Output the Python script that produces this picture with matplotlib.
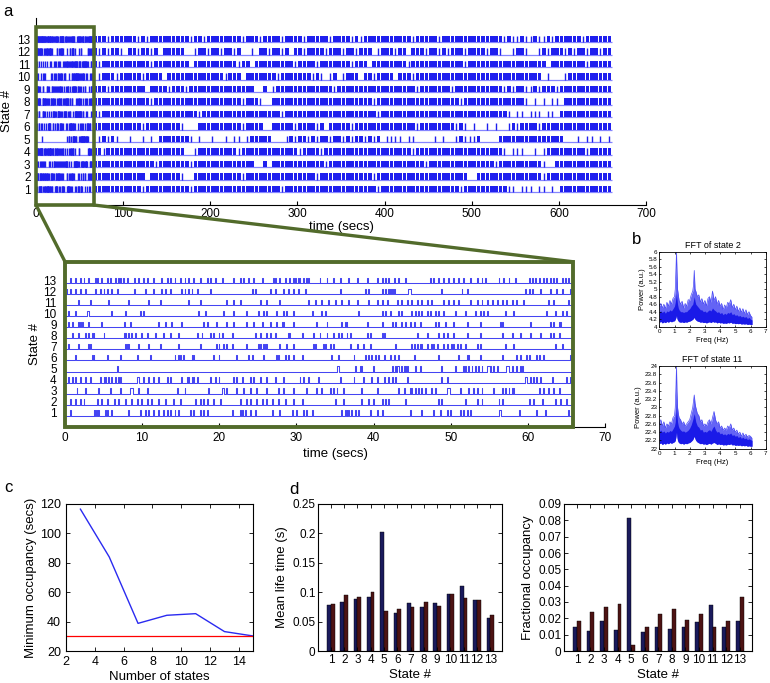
import numpy as np
import matplotlib
matplotlib.use('Agg')
import matplotlib.pyplot as plt
from matplotlib.patches import Rectangle, ConnectionPatch

plt.rcParams['font.family'] = ['Liberation Sans', 'DejaVu Sans']

# ---------------- data ----------------
states = list(range(1, 14))
rec_end = 661.0      # end of recording (s)
zoom_end = 65.8      # end of zoomed window (s)
pulse_dur = 0.12
wide_dur = 0.35

# event onset times (s) in the zoomed window, per state
zoom_events = {
    13: [0.65, 1.3, 1.9, 2.4, 3.0, 3.9, 4.1, 4.7, 5.4, 5.8, 6.5, 6.9, 7.1, 7.5, 8.0, 8.9, 9.5, 10.1, 10.6, 11.4,
         12.5, 13.2, 13.6, 14.2, 14.9, 15.5, 16.0, 16.6, 17.5, 18.4, 18.8, 19.4, 20.3, 21.8, 22.7, 23.1, 23.7, 24.4,
         25.5, 27.0, 27.2, 27.8, 28.5, 29.1, 29.6, 29.8, 30.2, 30.4, 30.9, 31.3, 31.5, 33.0, 33.9, 34.8, 35.6, 36.7,
         37.8, 39.1, 40.4, 41.1, 41.5, 41.9, 42.6, 43.2, 44.1, 47.3, 47.7, 48.4, 49.0, 49.7, 50.3, 51.0, 51.6, 52.5,
         53.4, 54.0, 54.4, 56.2, 56.8, 57.5, 58.3, 60.1, 60.5, 60.9, 61.4, 62.0, 62.4, 62.9, 63.3, 63.7, 64.4, 64.8, 65.2],
    12: [0.2, 0.65, 1.3, 1.9, 2.6, 3.9, 4.5, 5.0, 5.4, 6.0, 6.7, 8.9, 10.4, 11.4, 12.5, 13.0, 13.6, 15.1, 15.5, 16.0,
         16.4, 17.1, 18.8, 24.2, 24.6, 26.6, 27.2, 28.3, 28.9, 29.6, 30.2, 31.1, 35.6, 38.9, 39.3, 41.06, 41.5, 41.9,
         42.1, 42.35, 42.6, 44.5, 48.8, 51.4, 52.1, 59.6, 60.1, 60.5, 61.6, 62.9, 63.7, 64.4, 65.5],
    11: [1.7, 3.2, 5.6, 8.2, 10.8, 12.3, 16.0, 17.5, 20.9, 21.8, 22.7, 25.3, 26.1, 27.8, 31.5, 32.4, 33.2, 34.1, 35.0,
         35.8, 36.7, 37.8, 39.3, 40.4, 41.06, 41.7, 43.0, 43.6, 44.3, 44.9, 45.6, 46.2, 46.9, 47.5, 49.0, 49.7, 50.3,
         51.0, 52.5, 53.4, 54.0, 54.7, 55.3, 56.0, 56.6, 57.2, 57.9, 58.5, 59.4, 62.6, 63.3, 65.2],
    10: [0.4, 1.3, 2.8, 6.0, 7.8, 9.7, 10.1, 17.3, 18.1, 20.5, 21.8, 23.5, 25.0, 25.7, 26.1, 27.4, 28.3, 28.7, 29.6,
         32.0, 33.2, 33.7, 38.0, 41.06, 41.5, 42.1, 43.2, 43.6, 44.9, 45.4, 45.8, 46.2, 46.9, 47.3, 48.0, 48.4, 49.0,
         50.6, 51.8, 53.1, 53.8, 54.2, 54.7, 57.0, 58.1, 62.4, 63.5, 64.4, 65.0],
    9: [0.4, 0.9, 1.7, 1.9, 2.2, 3.0, 4.7, 7.6, 8.4, 12.1, 13.0, 13.8, 15.1, 17.9, 18.4, 19.6, 20.9, 21.8, 23.5, 24.4,
        25.5, 26.6, 27.4, 28.1, 28.3, 29.6, 32.6, 33.9, 35.8, 36.3, 36.5, 39.1, 41.06, 42.35, 42.8, 43.6, 44.1, 44.7,
        45.2, 46.0, 48.0, 48.4, 49.3, 50.3, 52.1, 53.8, 56.4, 56.6, 60.3, 62.9, 63.3, 64.0, 64.2],
    8: [0.9, 1.7, 2.6, 3.0, 3.5, 3.7, 5.0, 7.6, 7.8, 8.2, 8.6, 9.1, 9.9, 10.6, 11.7, 12.7, 13.6, 14.7, 17.1, 17.7,
        18.8, 19.2, 19.9, 20.3, 21.6, 24.6, 25.3, 26.1, 26.6, 27.2, 28.9, 29.1, 30.7, 32.2, 33.0, 33.9, 34.8, 35.4,
        35.8, 36.5, 36.9, 39.1, 39.5, 41.06, 41.3, 45.6, 46.9, 48.4, 49.0, 49.5, 50.3, 52.1, 53.8, 56.6, 57.9, 59.0,
        60.3, 61.6, 62.9, 63.3, 64.0],
    7: [0.4, 1.7, 3.0, 3.2, 7.8, 8.0, 8.2, 9.5, 10.8, 12.3, 14.7, 17.5, 19.6, 19.9, 20.5, 20.9, 21.6, 23.5, 25.0,
        25.3, 25.7, 25.9, 26.1, 27.8, 28.7, 29.6, 32.2, 32.4, 33.5, 33.7, 34.3, 34.8, 36.9, 37.8, 38.6, 39.5, 42.8,
        44.9, 45.2, 45.6, 46.0, 46.2, 46.9, 47.5, 47.7, 48.2, 49.0, 49.5, 50.1, 50.3, 50.8, 51.2, 51.8, 53.4, 53.8,
        57.0, 58.1, 63.5, 64.4],
    6: [1.3, 3.5, 3.7, 5.4, 7.1, 9.3, 11.0, 14.2, 14.7, 14.9, 15.3, 16.4, 16.6, 19.2, 19.9, 22.2, 23.7, 24.2, 25.7,
        27.4, 27.6, 28.5, 28.9, 29.6, 30.7, 34.5, 35.4, 37.4, 38.9, 39.3, 39.7, 40.2, 40.6, 41.3, 42.1, 42.6, 43.2,
        45.2, 48.4, 51.0, 52.1, 52.3, 53.8, 56.6, 58.5, 59.0, 59.8, 60.1, 61.1, 61.4, 62.0, 65.5],
    5: [6.7, 35.2, 37.6, 38.2, 38.4, 39.9, 42.35, 42.8, 43.0, 43.6, 43.9, 44.1, 44.3, 45.4, 46.0, 48.8, 50.6, 51.6,
        51.8, 52.3, 52.7, 53.1, 53.6, 54.0, 54.7, 55.1, 55.5, 56.0, 57.2, 57.9, 58.5, 59.0, 59.2],
    4: [0.4, 0.9, 1.3, 1.9, 2.6, 3.2, 4.5, 5.0, 5.2, 5.6, 6.0, 6.5, 6.9, 7.1, 9.3, 10.1, 10.8, 11.4, 12.1, 13.2,
        13.6, 15.1, 15.8, 16.0, 16.4, 16.6, 17.1, 18.8, 19.4, 19.9, 21.8, 22.2, 22.9, 24.0, 24.4, 25.3, 26.1, 27.2,
        28.3, 30.4, 30.9, 31.5, 32.8, 35.6, 37.4, 38.6, 39.7, 40.4, 41.3, 41.9, 42.35, 42.8, 44.3, 48.8, 49.5, 59.6,
        60.3, 60.7, 61.1, 61.6, 63.1, 65.0, 65.5],
    3: [1.5, 2.6, 4.3, 5.8, 7.1, 8.4, 9.5, 10.6, 14.5, 15.5, 18.6, 20.3, 20.9, 22.2, 23.1, 24.0, 24.8, 26.1, 27.6,
        28.3, 29.6, 31.3, 32.6, 33.2, 34.3, 34.8, 35.2, 36.1, 38.4, 40.4, 43.2, 43.9, 44.7, 44.9, 45.4, 45.8, 46.2,
        46.7, 47.5, 48.0, 49.5, 51.2, 52.3, 52.9, 53.4, 54.0, 55.5, 56.6, 57.0, 57.5, 57.9, 58.1, 61.4, 62.0, 62.6,
        63.3, 64.0],
    2: [0.65, 1.3, 1.9, 2.4, 4.1, 4.7, 5.4, 6.3, 6.9, 7.8, 8.6, 9.3, 9.9, 10.6, 11.2, 12.1, 13.0, 14.0, 14.9, 16.8,
        17.5, 17.9, 18.4, 19.2, 20.1, 22.7, 23.5, 24.0, 24.8, 25.5, 26.1, 26.8, 27.6, 28.5, 29.6, 30.7, 35.0, 36.1,
        38.4, 39.3, 39.9, 41.06, 41.5, 41.9, 44.1, 48.4, 48.8, 51.8, 53.4, 54.0, 56.2, 56.6, 60.1, 60.7, 61.8, 63.5,
        64.2, 65.0],
    1: [0.65, 3.7, 3.9, 4.1, 4.3, 5.2, 5.4, 6.0, 8.2, 9.7, 10.4, 10.8, 11.4, 12.1, 12.7, 13.2, 13.6, 14.2, 14.7,
        16.2, 16.6, 17.5, 17.9, 18.4, 21.6, 22.7, 22.9, 23.3, 24.0, 24.6, 26.8, 27.8, 29.4, 30.0, 30.9, 31.3, 32.0,
        35.8, 36.3, 36.5, 36.7, 37.1, 37.6, 38.0, 39.5, 40.4, 41.06, 44.7, 46.2, 47.7, 48.6, 49.5, 49.9, 51.2, 51.6,
        52.1, 52.5, 56.2, 58.8, 61.1, 62.2, 65.2],
}
# events lasting longer than a single sample
wide_events = {12: [44.5], 10: [2.8], 5: [35.2, 43.0, 54.7, 57.2], 4: [9.3, 59.6],
               3: [8.4, 20.3, 49.5], 1: [56.2]}

# occupancy of the remaining recording, 5-s bins from 65 s ('#' dense, '|' single event, '.' none)
occ_bin_start = 65.0
occ_bin_width = 5.0
occ_rows = {
    13: "###|######/|#|#######/##|##|####/####|###|#/###|####|#/####|####|/#|########/###|#####|/##########/####|#||#|/|#||#|####/##|######",
    12: "#|#|##|.##/|##|#.####/#..|##|##|/##|#..|.##/|##|#.##|#/###|###|##/|###.|###|/##.###|##|/#|###|####/|##|..|##|/..|#|###|#/|##|##|##",
    11: "#|########/###|######/##.#######/###|##.###/######|###/#|#######|/###.######/##|#######/#####|####/##########/####.#####/###|#####",
    10: ".|###|####/#|####.###/##########/|###.#####/##|#######/|#|.|#.|##/#.##|####./###|######/##########/##########/###.|...|#/#########",
    9:  "###|######/##.####|##/#|########/#######..#/.|########/#####|####/##########/####|#####/##|#######/####|#|##|/|#|###|###/#########",
    8:  "##########/###|######/##########/####|###|./.#########/##########/####|#####/##########/####|#####/#########|/.|.|.||.##/#########",
    7:  "#|########/##########/####|#####/##########/###|######/##########/#####|####/##########/##########/#####|.||./|||.||.###/#########",
    6:  "##########/#|########/|...######/####|####./.#####|###/#|#.#####|/##########/####|#####/###|#|.|../|.|..|#|##/##|#######/#########",
    5:  ".|#|#|..|./.|.|.#####/##|.|..|../|.||.|####/#...|#|##|/#|##|##|#|/##|#|#.|||/|.||....|./|..|#|||#./...#######/########../.|.||.|.|",
    4:  "##|#######/##########/#..|######/###|######/#######|##/##|#######/##########/###|######/##########/####|.|||./.|.|######/###|#####",
    3:  "##########/####|#####/##|#######/#######..#/.#########/###|######/##########/######|###/##########/##|#######/###|..####/#########",
    2:  "##########/##.#######/|..#######/####|#####/##########/#|########/####|#####/##########/######..##/##########/###|######/#########",
    1:  "##########/#|########/##|#######/##########/###|######/##########/#####|####/##########/####|#####/#####||.||/|.||.|.###/#########",
}

# panel b: FFT envelopes
fft_freq = [0.0, 0.1, 0.2, 0.3, 0.4, 0.5, 0.6, 0.7, 0.8, 0.9, 1.0, 1.05, 1.1, 1.13, 1.16, 1.2, 1.25, 1.3, 1.4,
            1.5, 1.6, 1.7, 1.8, 1.9, 2.0, 2.1, 2.2, 2.25, 2.3, 2.35, 2.4, 2.5, 2.6, 2.7, 2.8, 2.9, 3.0, 3.1, 3.2,
            3.3, 3.4, 3.5, 3.6, 3.7, 3.8, 3.9, 4.0, 4.1, 4.2, 4.3, 4.4, 4.5, 4.6, 4.7, 4.8, 4.9, 5.0, 5.1, 5.2,
            5.3, 5.4, 5.5, 5.6, 5.7, 5.8, 5.9, 6.0, 6.1]
fft2_hi = [4.55, 4.62, 4.5, 4.6, 4.48, 4.65, 4.55, 4.7, 4.6, 4.75, 4.8, 5.0, 5.6, 6.0, 5.5, 5.0, 4.85, 4.7, 4.6,
           4.68, 4.5, 4.62, 4.55, 4.72, 4.7, 4.85, 4.95, 5.1, 5.5, 5.0, 4.95, 4.8, 4.85, 4.65, 4.75, 4.6, 4.7,
           4.55, 4.75, 4.8, 4.65, 4.95, 4.7, 4.8, 4.6, 4.7, 4.55, 4.62, 4.45, 4.58, 4.5, 4.65, 4.6, 4.72, 4.5,
           4.6, 4.45, 4.55, 4.4, 4.5, 4.38, 4.48, 4.35, 4.45, 4.32, 4.4, 4.3, 4.25]
fft2_core = [4.4, 4.42, 4.38, 4.42, 4.36, 4.42, 4.4, 4.45, 4.42, 4.48, 4.55, 4.65, 4.8, 4.9, 4.75, 4.6, 4.5, 4.45,
             4.4, 4.4, 4.38, 4.4, 4.4, 4.45, 4.48, 4.55, 4.6, 4.7, 4.8, 4.68, 4.6, 4.55, 4.5, 4.45, 4.45, 4.4,
             4.42, 4.38, 4.42, 4.45, 4.42, 4.5, 4.45, 4.42, 4.38, 4.4, 4.35, 4.38, 4.32, 4.36, 4.33, 4.38, 4.36,
             4.4, 4.32, 4.35, 4.3, 4.32, 4.28, 4.3, 4.26, 4.28, 4.25, 4.27, 4.22, 4.25, 4.2, 4.18]
fft2_lo = [4.12, 4.14, 4.1, 4.13, 4.11, 4.14, 4.12, 4.15, 4.13, 4.15, 4.16, 4.2, 4.25, 4.3, 4.22, 4.18, 4.15,
           4.13, 4.12, 4.13, 4.11, 4.13, 4.12, 4.14, 4.15, 4.17, 4.2, 4.22, 4.25, 4.2, 4.18, 4.15, 4.14, 4.12,
           4.13, 4.11, 4.12, 4.1, 4.12, 4.13, 4.11, 4.14, 4.12, 4.13, 4.1, 4.12, 4.1, 4.11, 4.09, 4.1, 4.09,
           4.11, 4.1, 4.12, 4.09, 4.1, 4.08, 4.09, 4.08, 4.09, 4.07, 4.08, 4.07, 4.08, 4.06, 4.07, 4.06, 4.06]
fft11_hi = [22.6, 22.7, 22.55, 22.65, 22.5, 22.6, 22.55, 22.65, 22.6, 22.75, 22.8, 23.0, 23.55, 24.0, 23.4, 23.0,
            22.85, 22.75, 22.7, 22.6, 22.65, 22.55, 22.6, 22.65, 22.7, 22.85, 23.0, 23.15, 23.3, 23.1, 23.0,
            22.85, 22.8, 22.65, 22.7, 22.55, 22.6, 22.55, 22.65, 22.7, 22.6, 22.75, 22.9, 22.7, 22.6, 22.65,
            22.5, 22.55, 22.45, 22.5, 22.45, 22.55, 22.5, 22.6, 22.45, 22.5, 22.4, 22.45, 22.35, 22.4, 22.3,
            22.38, 22.3, 22.35, 22.28, 22.32, 22.3, 22.25]
fft11_core = [22.42, 22.45, 22.4, 22.43, 22.38, 22.42, 22.4, 22.44, 22.42, 22.48, 22.55, 22.65, 22.9, 23.1, 22.85,
              22.65, 22.55, 22.5, 22.45, 22.42, 22.43, 22.4, 22.42, 22.45, 22.5, 22.58, 22.7, 22.78, 22.85, 22.75,
              22.65, 22.55, 22.52, 22.45, 22.47, 22.4, 22.42, 22.4, 22.44, 22.46, 22.42, 22.5, 22.55, 22.45, 22.4,
              22.42, 22.36, 22.38, 22.34, 22.36, 22.33, 22.37, 22.35, 22.38, 22.32, 22.34, 22.3, 22.32, 22.27,
              22.3, 22.25, 22.28, 22.24, 22.26, 22.22, 22.24, 22.22, 22.2]
fft11_lo = [22.12, 22.14, 22.1, 22.13, 22.11, 22.14, 22.12, 22.15, 22.13, 22.15, 22.17, 22.2, 22.3, 22.4, 22.28,
            22.2, 22.16, 22.14, 22.12, 22.13, 22.11, 22.13, 22.12, 22.14, 22.15, 22.18, 22.22, 22.26, 22.3,
            22.24, 22.2, 22.16, 22.14, 22.12, 22.13, 22.11, 22.12, 22.1, 22.12, 22.13, 22.11, 22.14, 22.15,
            22.13, 22.1, 22.12, 22.1, 22.11, 22.09, 22.1, 22.09, 22.11, 22.1, 22.12, 22.09, 22.1, 22.08, 22.09,
            22.08, 22.09, 22.07, 22.08, 22.07, 22.08, 22.06, 22.07, 22.06, 22.06]

# panel c
n_states = [3, 5, 7, 9, 11, 13, 15]
min_occupancy = [116.5, 84.0, 38.8, 44.3, 45.4, 33.2, 30.2]
occ_threshold = 30

# panel d
life_a = [0.078, 0.084, 0.089, 0.092, 0.203, 0.064, 0.081, 0.074, 0.082, 0.097, 0.110, 0.086, 0.056]
life_b = [0.080, 0.095, 0.092, 0.100, 0.068, 0.072, 0.075, 0.084, 0.077, 0.097, 0.090, 0.086, 0.062]
frac_a = [0.0149, 0.0125, 0.0185, 0.013, 0.0816, 0.0115, 0.015, 0.0135, 0.0145, 0.0175, 0.028, 0.0145, 0.0185]
frac_b = [0.0182, 0.0239, 0.0271, 0.029, 0.0035, 0.015, 0.0225, 0.0255, 0.019, 0.0225, 0.015, 0.0185, 0.033]
life_yticks = [0, 0.05, 0.1, 0.15, 0.2, 0.25]
life_yticklabels = ['0', '0.05', '0.1', '0.15', '0.2', '0.25']
frac_yticks = [0, 0.01, 0.02, 0.03, 0.04, 0.05, 0.06, 0.07, 0.08, 0.09]
frac_yticklabels = ['0', '0.01', '0.02', '0.03', '0.04', '0.05', '0.06', '0.07', '0.08', '0.09']

# ---------------- style ----------------
W, H = 770, 683
fig = plt.figure(figsize=(W / 100, H / 100), dpi=100)
GREEN = '#526b2b'
BLUE = '#1f1fee'
BLUE_LIGHT = '#8585ff'
NAVY = '#1a1a5c'
MAROON = '#4d1313'
PH = 0.55     # pulse height
YL = (-0.25, 14.7)


def ax_px(l, t, r, b):
    return fig.add_axes([l / W, 1 - b / H, (r - l) / W, (b - t) / H])


# ---------- panel a: full recording ----------
ax_top = ax_px(36, 18, 646, 205)
for k in states:
    base = k - 0.25
    ax_top.hlines(base, 0, rec_end, color=BLUE_LIGHT, lw=0.9, zorder=1)
    ev = [t for t in zoom_events[k] if t < zoom_end]
    ax_top.vlines(ev, base, base + PH, color=BLUE, lw=1.0, zorder=2)
    s = occ_rows[k].replace('/', '')
    solid = [(occ_bin_start + i * occ_bin_width + 0.9, occ_bin_width - 0.9)
             for i, c in enumerate(s) if c == '#']
    single = [occ_bin_start + (i + 0.5) * occ_bin_width for i, c in enumerate(s) if c == '|']
    ax_top.broken_barh(solid, (base, PH), facecolors=BLUE, linewidth=0, zorder=2)
    ax_top.vlines(single, base, base + PH, color=BLUE, lw=1.0, zorder=2)
ax_top.set_xlim(0, 700)
ax_top.set_ylim(*YL)
ax_top.set_xticks(range(0, 701, 100))
ax_top.set_yticks(states)
ax_top.spines['top'].set_visible(False)
ax_top.spines['right'].set_visible(False)
ax_top.tick_params(direction='in', labelsize=8.5, length=3, width=0.8)
ax_top.tick_params(axis='y', length=0, pad=4)
ax_top.tick_params(axis='x', pad=2)
ax_top.set_xlabel('time (secs)', fontsize=9.5, labelpad=1)
ax_top.set_ylabel('State #', fontsize=9.5, labelpad=3)
ax_top.add_patch(Rectangle((0, YL[0]), 66, 14.0 - YL[0], fill=False, ec=GREEN, lw=2.6,
                           clip_on=False, zorder=5))

# ---------- panel a: zoomed window ----------
ax_z = ax_px(65, 261.7, 605, 426.7)
for k in states:
    base = k - 0.25
    xs, ys = [0.0], [base]
    wides = wide_events.get(k, [])
    for t in sorted(zoom_events[k]):
        d = wide_dur if t in wides else pulse_dur
        xs += [t, t, t + d, t + d]
        ys += [base, base + PH * 0.9, base + PH * 0.9, base]
    xs.append(zoom_end)
    ys.append(base)
    ax_z.plot(xs, ys, color='#4545f2', lw=0.75, zorder=2)
ax_z.set_xlim(0, 70)
ax_z.set_ylim(*YL)
ax_z.set_xticks(range(0, 71, 10))
ax_z.set_yticks(states)
for sp in ['top', 'right', 'left']:
    ax_z.spines[sp].set_visible(False)
ax_z.tick_params(direction='in', labelsize=8.5, length=3, width=0.8)
ax_z.tick_params(axis='y', length=0, pad=6)
ax_z.tick_params(axis='x', pad=4)
ax_z.set_xlabel('time (secs)', fontsize=9.5, labelpad=3)
ax_z.set_ylabel('State #', fontsize=9.5, labelpad=2)
ax_z.add_patch(Rectangle((0, YL[0]), zoom_end, YL[1] - YL[0], fill=False, ec=GREEN, lw=2.8,
                         clip_on=False, zorder=5))

for xa in (0, 66):
    xb = 0 if xa == 0 else zoom_end
    con = ConnectionPatch(xyA=(xa, YL[0]), coordsA=ax_top.transData,
                          xyB=(xb, YL[1]), coordsB=ax_z.transData, color=GREEN, lw=2.4)
    fig.add_artist(con)

# ---------- panel b ----------
def fft_panel(rect, hi, core, lo, ylim, yticks, title):
    ax = ax_px(*rect)
    ax.fill_between(fft_freq, lo, hi, color='#6464f5', lw=0)
    ax.fill_between(fft_freq, lo, core, color='#1a1ae8', lw=0)
    ax.plot(fft_freq, hi, color='#4a4af5', lw=0.5)
    ax.set_xlim(0, 7)
    ax.set_ylim(*ylim)
    ax.set_xticks(range(0, 8))
    ax.set_yticks(yticks)
    ax.set_yticklabels([('%g' % v) for v in yticks])
    ax.tick_params(direction='in', labelsize=4.5, length=1.5, width=0.5, pad=1.5, top=True, right=True)
    for sp in ax.spines.values():
        sp.set_linewidth(0.6)
    ax.set_title(title, fontsize=6.5, pad=3)
    ax.set_xlabel('Freq (Hz)', fontsize=5.5, labelpad=2)
    ax.set_ylabel('Power (a.u.)', fontsize=5.5, labelpad=2)
    return ax

fft_panel((659.3, 251.7, 765.7, 326.7), fft2_hi, fft2_core, fft2_lo, (4, 6),
          [4, 4.2, 4.4, 4.6, 4.8, 5, 5.2, 5.4, 5.6, 5.8, 6], 'FFT of state 2')
fft_panel((659.3, 366, 765.7, 448.7), fft11_hi, fft11_core, fft11_lo, (22, 24),
          [22, 22.2, 22.4, 22.6, 22.8, 23, 23.2, 23.4, 23.6, 23.8, 24], 'FFT of state 11')

# ---------- panel c ----------
ax_c = ax_px(66, 504, 253.3, 651)
ax_c.plot(n_states, min_occupancy, color='#2a2af0', lw=1.0)
ax_c.axhline(occ_threshold, color='red', lw=0.9)
ax_c.set_xlim(2, 15)
ax_c.set_ylim(20, 120)
ax_c.set_xticks(range(2, 15, 2))
ax_c.set_yticks(range(20, 121, 20))
ax_c.tick_params(direction='in', labelsize=9, length=3, width=0.6, top=True, right=True)
ax_c.set_xlabel('Number of states', fontsize=9.5, labelpad=2)
ax_c.set_ylabel('Minimum occupancy (secs)', fontsize=9.5, labelpad=2)

# ---------- panel d ----------
def bar_panel(rect, a, b, yticks, ylabels, ylabel):
    ax = ax_px(*rect)
    x = np.array(states, dtype=float)
    bw = 0.28
    ax.bar(x - bw / 2, a, width=bw, color=NAVY, edgecolor='black', linewidth=0.3)
    ax.bar(x + bw / 2, b, width=bw, color=MAROON, edgecolor='black', linewidth=0.3)
    ax.set_xlim(0.05, 13.9)
    ax.set_ylim(yticks[0], yticks[-1])
    ax.set_xticks(states)
    ax.set_yticks(yticks)
    ax.set_yticklabels(ylabels)
    ax.tick_params(direction='in', labelsize=8.5, length=3, width=0.6, top=True, right=True, pad=2)
    ax.set_xlabel('State #', fontsize=9.5, labelpad=2)
    ax.set_ylabel(ylabel, fontsize=9.5, labelpad=3)
    return ax

bar_panel((318.3, 504, 502.3, 651), life_a, life_b, life_yticks, life_yticklabels, 'Mean life time (s)')
bar_panel((564, 504, 752, 651), frac_a, frac_b, frac_yticks, frac_yticklabels, 'Fractional occupancy')

# ---------- panel letters ----------
for lab, (px, py) in {'a': (8, 11), 'b': (637, 239), 'c': (8, 487), 'd': (294, 490)}.items():
    fig.text(px / W, 1 - py / H, lab, fontsize=12, ha='center', va='center')

fig.savefig('out.png', dpi=100)
